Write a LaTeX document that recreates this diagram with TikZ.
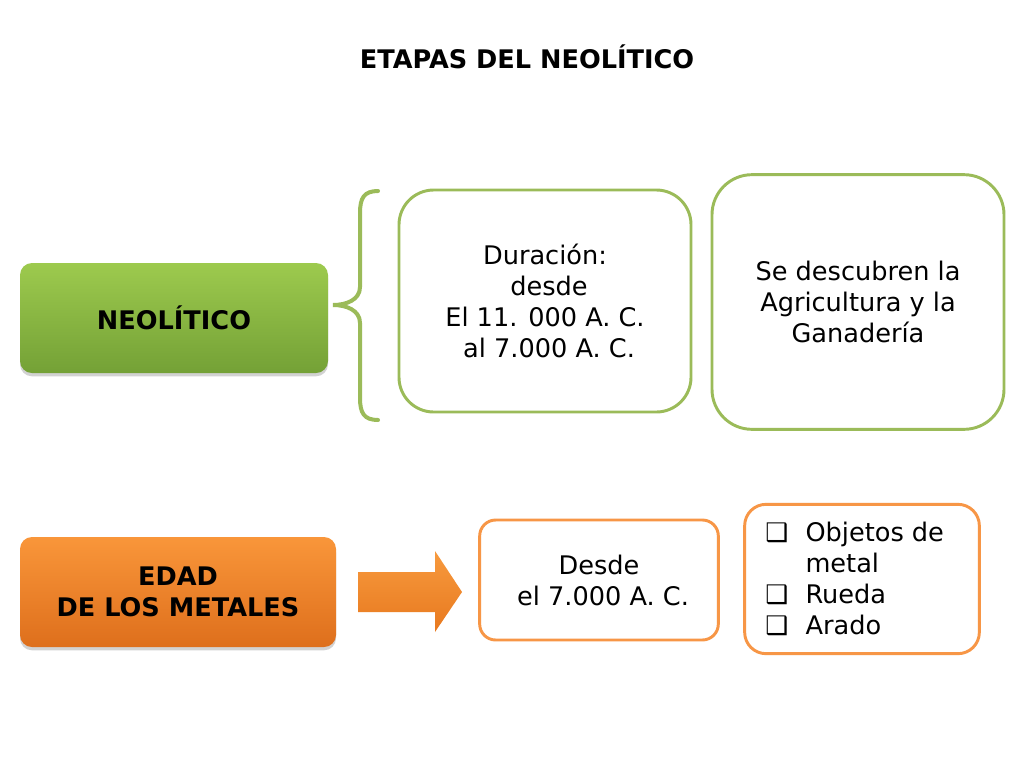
\documentclass[tikz,border=0pt]{standalone}
\usepackage{fontspec}
\setmainfont{DejaVu Sans}
\usetikzlibrary{shadows}
\definecolor{grnA}{HTML}{9DCA4E}
\definecolor{grnB}{HTML}{74A136}
\definecolor{grnLine}{HTML}{9BBB59}
\definecolor{orgA}{HTML}{F9963A}
\definecolor{orgB}{HTML}{DE6F1C}
\definecolor{orgLine}{HTML}{F79646}
\definecolor{arrA}{HTML}{F79A3E}
\definecolor{arrB}{HTML}{E8791F}
\newcommand{\bodysize}{\fontsize{19.2pt}{23.3pt}\selectfont}
\tikzset{
  mainbox/.style={rounded corners=9pt, minimum width=231pt, minimum height=82.5pt, inner sep=0pt,
    drop shadow={opacity=0.35, shadow xshift=0pt, shadow yshift=-2.5pt},
    font=\bodysize\bfseries, align=center, text=black},
  greenbox/.style={mainbox, top color=grnA, bottom color=grnB},
  orangebox/.style={mainbox, top color=orgA, bottom color=orgB},
  infobox/.style={draw, line width=2.2pt, fill=white, inner sep=0pt, font=\bodysize, align=center, text=black},
  ginfo/.style={infobox, draw=grnLine},
  oinfo/.style={infobox, draw=orgLine},
}
\begin{document}
\begin{tikzpicture}[x=0.75pt,y=-0.75pt]
\useasboundingbox (0,0) rectangle (1024,768);
\fill[white] (0,0) rectangle (1024,768);

\node[font=\bodysize\bfseries] (title) at (527,57) {ETAPAS DEL NEOLÍTICO};

% Neolitico
\node[greenbox, minimum width=231pt, minimum height=82.5pt] (neo) at (174,318) {NEOLÍTICO};

% brace
\coordinate (bt) at (378,191);
\coordinate (bm) at (333,305);
\coordinate (bb) at (378,420);
\draw[grnLine, line width=3pt, line cap=round]
  (bt) .. controls (364,191) and (360,198) .. (360,213) -- (360,287)
  .. controls (360,300) and (346,305) .. (bm)
  .. controls (346,305) and (360,310) .. (360,323) -- (360,398)
  .. controls (360,413) and (364,420) .. (bb);

\node[ginfo, rounded corners=26pt, minimum width=219pt, minimum height=166.5pt] (dur) at (545,301)
  {Duración:\\ \ desde\\ El 11. 000 A. C.\\ \ al 7.000 A. C.};

\node[ginfo, rounded corners=30pt, minimum width=219pt, minimum height=191pt] (desc) at (858,302)
  {Se descubren la\\ Agricultura y la\\ Ganadería};

% Edad de los metales
\node[orangebox, minimum width=237pt, minimum height=82.5pt] (edad) at (178,592) {EDAD\\ DE LOS METALES};

% arrow
\coordinate (atip) at (462,592);
\shade[top color=arrA, bottom color=arrB]
  (358,572) -- (435,572) -- (435,551) -- (atip) -- (435,632) -- (435,612) -- (358,612) -- cycle;

\node[oinfo, rounded corners=12pt, minimum width=179pt, minimum height=90pt] (desde) at (599,580)
  {Desde\\ \ el 7.000 A. C.};

\node[oinfo, rounded corners=16pt, minimum width=176pt, minimum height=112pt] (obj) at (862,579) {};
\node[font=\bodysize, anchor=north west, inner sep=0pt] (objlist) at (765,519)
  {\begin{tabular}{@{}l@{\hspace{13pt}}l@{}}❑ & Objetos de\\ & metal\\ ❑ & Rueda\\ ❑ & Arado\end{tabular}};
\end{tikzpicture}
\end{document}
